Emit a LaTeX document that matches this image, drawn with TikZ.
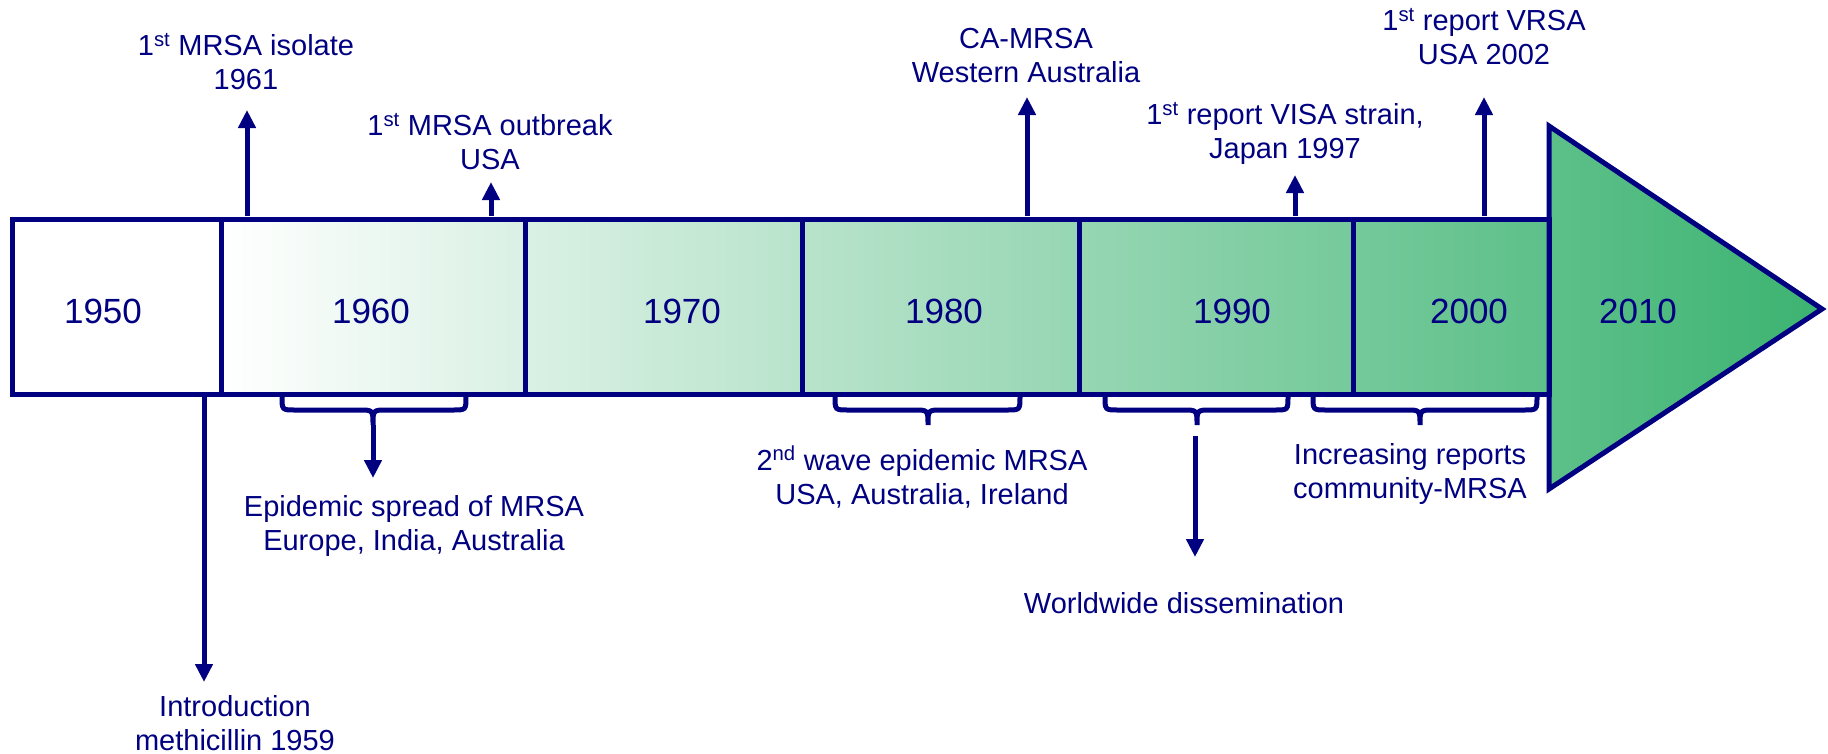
\documentclass[tikz,border=0pt]{standalone}
\usepackage{fontspec}
\setmainfont{Liberation Sans}
\usetikzlibrary{arrows.meta}
\definecolor{navyc}{RGB}{0,0,128}
\definecolor{greenc}{RGB}{60,179,113}
\tikzset{
  outl/.style={draw=navyc, line width=5pt, line join=miter},
  arr/.style={draw=navyc, line width=5pt, -{Triangle[width=17pt,length=18pt]}},
  brc/.style={draw=navyc, line width=5pt, line cap=round},
  yr/.style={text=navyc, font=\fontsize{35}{42}\selectfont, inner sep=0pt},
  lbl/.style={text=navyc, font=\fontsize{29}{34}\selectfont, align=center, inner sep=0pt},
}
\newcommand\mybrace[4]{% name, left, right, center
  \draw[brc] (#2,396) .. controls (#2,410) .. ({#2+13},410) -- ({#4-14},410)
    .. controls (#4,410) .. (#4,425) .. controls (#4,410) .. ({#4+14},410)
    -- ({#3-13},410) .. controls (#3,410) .. (#3,396);
  \coordinate (#1) at (#4,425);
}
\begin{document}
\begin{tikzpicture}[x=1pt,y=-1pt]
\useasboundingbox (0,0) rectangle (1828,753);
% gradient fill
\shade[left color=white, right color=greenc]
  (221,219) -- (1549,219) -- (1549,126) -- (1822,309) -- (1549,489) -- (1549,394) -- (221,394) -- cycle;
% outlines
\draw[outl] (12,219) rectangle (1549,394);
\foreach \xx in {221,525,802,1079,1353} \draw[outl] (\xx,219) -- (\xx,394);
\draw[outl] (1549,126) -- (1822,309) -- (1549,489) -- cycle;
% year labels
\node[yr] (y1950) at (103,311) {1950};
\node[yr] (y1960) at (371,311) {1960};
\node[yr] (y1970) at (682,311) {1970};
\node[yr] (y1980) at (944,311) {1980};
\node[yr] (y1990) at (1232,311) {1990};
\node[yr] (y2000) at (1469,311) {2000};
\node[yr] (y2010) at (1638,311) {2010};
% upward events
\node[lbl] (e1) at (246,62) {1\textsuperscript{st} MRSA isolate\\1961};
\coordinate (e1s) at (247,216); \coordinate (e1t) at (247,110);
\draw[arr] (e1s) -- (e1t);
\node[lbl] (e2) at (490,142) {1\textsuperscript{st} MRSA outbreak\\USA};
\coordinate (e2s) at (491,216); \coordinate (e2t) at (491,182);
\draw[arr] (e2s) -- (e2t);
\node[lbl] (e3) at (1026,56) {CA-MRSA\\Western Australia};
\coordinate (e3s) at (1027,216); \coordinate (e3t) at (1027,97);
\draw[arr] (e3s) -- (e3t);
\node[lbl] (e4) at (1285,133) {1\textsuperscript{st} report VISA strain,\\Japan 1997};
\coordinate (e4s) at (1295,216); \coordinate (e4t) at (1295,175);
\draw[arr] (e4s) -- (e4t);
\node[lbl] (e5) at (1484,37) {1\textsuperscript{st} report VRSA\\USA 2002};
\coordinate (e5s) at (1484,216); \coordinate (e5t) at (1484,97);
\draw[arr] (e5s) -- (e5t);
% downward events
\coordinate (d1s) at (204,397); \coordinate (d1t) at (204,682);
\draw[arr] (d1s) -- (d1t);
\node[lbl] (d1) at (235,723) {Introduction\\methicillin 1959};
\mybrace{b1}{282}{466}{373}
\coordinate (b1t) at (373,478);
\draw[arr] (b1) -- (b1t);
\node[lbl] (d2) at (414,526) {Epidemic spread of MRSA\\Europe, India, Australia};
\mybrace{b2}{835}{1020}{928}
\node[lbl] (d3) at (922,477) {2\textsuperscript{nd} wave epidemic MRSA\\USA, Australia, Ireland};
\mybrace{b3}{1105}{1288}{1197}
\coordinate (b3s) at (1195,436); \coordinate (b3t) at (1195,557);
\draw[arr] (b3s) -- (b3t);
\node[lbl] (d4) at (1184,603) {Worldwide dissemination};
\mybrace{b4}{1313}{1537}{1420}
\node[lbl] (d5) at (1410,474) {Increasing reports\\community-MRSA};
\end{tikzpicture}
\end{document}
